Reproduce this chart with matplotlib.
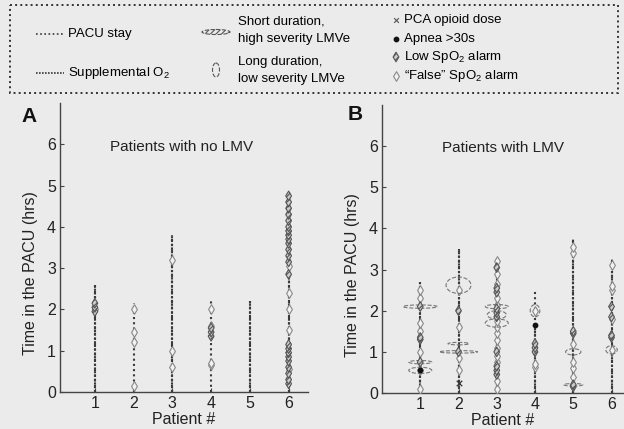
import matplotlib
matplotlib.use("Agg")
import matplotlib.pyplot as plt
from matplotlib.patches import Ellipse, Rectangle

plt.rcParams['font.family'] = ['Liberation Sans', 'DejaVu Sans']
plt.rcParams['mathtext.fontset'] = 'custom'
plt.rcParams['mathtext.rm'] = 'Liberation Sans'
plt.rcParams['mathtext.it'] = 'Liberation Sans:italic'
plt.rcParams['hatch.linewidth'] = 0.8
plt.rcParams['hatch.color'] = '#555555'

patients = [1, 2, 3, 4, 5, 6]

# panel A: patients with no LMV
pacu_a = [2.6, 2.15, 3.8, 2.25, 2.2, 4.85]
o2_a = [2.6, 0.0, 3.8, 0.0, 2.2, 4.85]
low_a = [
    [1.95, 2.05, 2.15],
    [],
    [],
    [1.35, 1.45, 1.55],
    [],
    [0.2, 0.3, 0.45, 0.6, 0.75, 0.85, 0.95, 1.05, 1.15, 2.85, 3.15, 3.3,
     3.45, 3.6, 3.7, 3.8, 3.9, 4.0, 4.15, 4.3, 4.45, 4.6, 4.75],
]
false_a = [
    [2.0],
    [0.15, 1.2, 1.45, 2.0],
    [0.6, 1.0, 3.2],
    [0.65, 0.7, 1.6, 2.0],
    [],
    [0.55, 1.5, 2.0, 2.4, 3.05],
]
pca_a = [[], [], [], [], [], []]
apnea_a = [[], [], [], [], [], []]

# panel B: patients with LMV
pacu_b = [2.7, 3.5, 3.25, 2.5, 3.75, 3.25]
o2_b = [2.7, 3.5, 3.25, 1.7, 3.75, 3.25]
low_b = [
    [0.75, 1.3, 1.35, 2.1],
    [1.0, 2.0],
    [0.45, 0.55, 0.65, 1.0, 1.85, 1.95, 2.05, 2.45, 2.55, 3.05],
    [1.0, 1.1, 1.2],
    [0.15, 0.2, 1.45, 1.5],
    [1.35, 1.4, 1.85, 2.1],
]
false_b = [
    [0.1, 0.55, 1.0, 1.5, 1.7, 2.3, 2.5],
    [0.55, 0.85, 1.6, 2.5],
    [0.1, 0.3, 0.75, 0.9, 1.1, 1.3, 1.45, 1.6, 1.75, 2.15, 2.3, 2.65, 2.9, 3.2],
    [0.62, 0.7, 2.0],
    [0.4, 0.6, 0.75, 1.2, 3.4, 3.55],
    [1.05, 1.8, 2.5, 2.6, 3.1],
]
pca_b = [[], [0.25], [], [], [], []]
apnea_b = [[0.55], [], [], [1.65], [], []]

# LMV events (patient, time, extent across patients, extent in hours)
lmve_pt = [1, 1, 1, 2, 2, 2, 3, 3, 3, 4, 5, 5, 6]
lmve_t = [2.1, 0.75, 0.55, 2.62, 1.2, 1.0, 2.1, 1.9, 1.7, 2.0, 1.0, 0.2, 1.05]
lmve_w = [0.9, 0.6, 0.6, 0.65, 0.55, 1.0, 0.6, 0.5, 0.6, 0.25, 0.4, 0.5, 0.3]
lmve_h = [0.08, 0.08, 0.15, 0.4, 0.06, 0.06, 0.1, 0.2, 0.2, 0.3, 0.15, 0.06, 0.2]

LINE = '#3a3a3a'
GRAY = '#555555'
MS = 24


def flat(groups):
    xs, ys = [], []
    for p, vals in zip(patients, groups):
        xs += [p] * len(vals)
        ys += vals
    return xs, ys


def draw_panel(ax, pacu, o2, low, false, pca, apnea, xlim):
    ax.vlines(patients, 0, pacu, colors=LINE, linestyles=(0, (1, 1.5)), lw=1.5, zorder=2)
    ax.vlines(patients, 0, o2, colors=LINE, linestyles=(0, (1, 0.8)), lw=1.5, zorder=2)
    x, y = flat(false)
    ax.scatter(x, y, marker='d', s=MS, facecolors='#f2f2f2', edgecolors='#888888',
               linewidths=0.8, zorder=3)
    x, y = flat(low)
    ax.scatter(x, y, marker='d', s=MS, facecolors='#cccccc', edgecolors=GRAY,
               linewidths=0.8, hatch='//////', zorder=4)
    x, y = flat(pca)
    ax.scatter(x, y, marker='x', s=16, color='#333333', linewidths=0.9, zorder=5)
    x, y = flat(apnea)
    ax.scatter(x, y, marker='o', s=10, color='#111111', zorder=5)
    ax.set_xlim(*xlim)
    ax.set_ylim(0, 7)
    ax.set_xticks(patients)
    ax.set_yticks(range(7))
    for s in ('top', 'right'):
        ax.spines[s].set_visible(False)
    for s in ('left', 'bottom'):
        ax.spines[s].set_color('#444444')
        ax.spines[s].set_linewidth(1.0)
    ax.tick_params(direction='in', length=3, labelsize=11.5, colors='#444444',
                   labelcolor='#222222', pad=3)
    ax.patch.set_visible(False)
    ax.set_xlabel('Patient #', fontsize=11.5, color='#222222')
    ax.set_ylabel('Time in the PACU (hrs)', fontsize=11.5, color='#222222')


fig = plt.figure(figsize=(6.24, 4.29), dpi=100, facecolor='#ebebeb')

# overlay in pixel units for the key box
leg = fig.add_axes([0, 0, 1, 1])
leg.set_xlim(0, 624)
leg.set_ylim(429, 0)
leg.axis('off')
leg.add_patch(Rectangle((10, 5), 608, 88, fill=False, ls=':', lw=1.4, ec='#333333'))
fs = 9.5
leg.plot([36, 64], [34, 34], ls=(0, (1, 1.5)), color=LINE, lw=1.2)
leg.text(68, 34, 'PACU stay', fontsize=fs, va='center')
leg.plot([36, 64], [73, 73], ls=(0, (1, 0.8)), color=LINE, lw=1.2)
leg.text(68, 73, 'Supplemental O$_2$', fontsize=fs, va='center')
leg.add_patch(Ellipse((216, 32), 28, 5, fill=False, ls='--', ec=GRAY, lw=0.8, hatch='//////'))
leg.text(238, 22, 'Short duration,', fontsize=fs, va='center')
leg.text(238, 39, 'high severity LMVe', fontsize=fs, va='center')
leg.add_patch(Ellipse((216, 70), 7, 14, fill=False, ls='--', ec=GRAY, lw=0.8))
leg.text(238, 62, 'Long duration,', fontsize=fs, va='center')
leg.text(238, 79, 'low severity LMVe', fontsize=fs, va='center')
leg.scatter([396], [20], marker='x', s=12, color='#555555', linewidths=0.8)
leg.text(404, 20, 'PCA opioid dose', fontsize=fs, va='center')
leg.scatter([396], [39], marker='o', s=10, color='#111111')
leg.text(404, 39, 'Apnea >30s', fontsize=fs, va='center')
leg.scatter([396], [57], marker='d', s=MS, facecolors='#cccccc', edgecolors=GRAY,
            linewidths=0.8, hatch='//////')
leg.text(404, 57, 'Low SpO$_2$ alarm', fontsize=fs, va='center')
leg.scatter([396], [76], marker='d', s=MS, facecolors='#f2f2f2', edgecolors='#888888',
            linewidths=0.8)
leg.text(404, 76, '\u201cFalse\u201d SpO$_2$ alarm', fontsize=fs, va='center')

ax_a = fig.add_axes([60 / 624, 1 - 392 / 429, 248 / 624, 289 / 429])
ax_b = fig.add_axes([382 / 624, 1 - 393 / 429, 241 / 624, 288 / 429])

draw_panel(ax_a, pacu_a, o2_a, low_a, false_a, pca_a, apnea_a, (0.1, 6.5))
draw_panel(ax_b, pacu_b, o2_b, low_b, false_b, pca_b, apnea_b, (0.0, 6.3))

for p, t, w, h in zip(lmve_pt, lmve_t, lmve_w, lmve_h):
    ax_b.add_patch(Ellipse((p, t), w, h, fill=False, ls='--', ec='#777777', lw=0.8, zorder=3))

for ax, dx in ((ax_a, 248), (ax_b, 241)):
    ax.yaxis.set_label_coords(-22 / dx, 0.41)
    ax.xaxis.set_label_coords(0.5, -0.07)

ax_a.text(0.49, 0.848, 'Patients with no LMV', transform=ax_a.transAxes,
          ha='center', va='center', fontsize=11, color='#222222')
ax_b.text(0.50, 0.85, 'Patients with LMV', transform=ax_b.transAxes,
          ha='center', va='center', fontsize=11, color='#222222')

fig.text(29 / 624, 1 - 117 / 429, 'A', fontsize=15, fontweight='bold',
         ha='center', va='center', color='#111111')
fig.text(355 / 624, 1 - 115 / 429, 'B', fontsize=15, fontweight='bold',
         ha='center', va='center', color='#111111')

fig.savefig('out.png', dpi=100, facecolor=fig.get_facecolor())
